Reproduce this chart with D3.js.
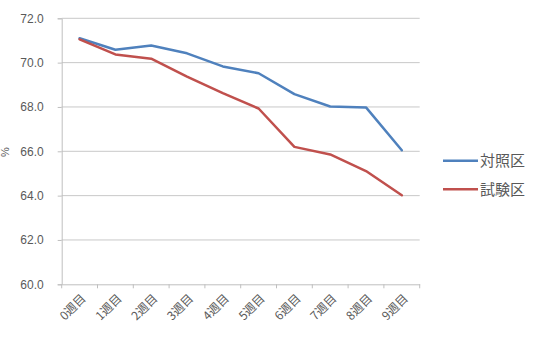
<!DOCTYPE html>
<html><head><meta charset="utf-8">
<script src="https://cdn.jsdelivr.net/npm/d3@7"></script>
<style>body{margin:0;background:#fff}svg{display:block}</style>
</head><body>
<svg id="c" width="533" height="340"></svg>
<script>
const categories = ["0週目","1週目","2週目","3週目","4週目","5週目","6週目","7週目","8週目","9週目"];
const controlValues = [71.1, 70.58, 70.77, 70.42, 69.83, 69.52, 68.58, 68.02, 67.98, 66.05];
const testValues = [71.05, 70.37, 70.18, 69.37, 68.62, 67.93, 66.2, 65.86, 65.11, 64.02];
const seriesNames = ["対照区","試験区"];
const yTicks = [60, 62, 64, 66, 68, 70, 72];
const yTitle = "%";

const colors = ["#4F81BD", "#C0504D"];
const svg = d3.select("#c");
const L = 61.7, R = 419.7, T = 18.3, B = 284.3;
const font = "'Liberation Sans', Arial, sans-serif";
const cjk = "'Noto Sans CJK JP', sans-serif";

const x = d3.scaleBand().domain(categories).range([L, R]).padding(0);
const y = d3.scaleLinear().domain([60, 72]).range([B, T]);

// gridlines
svg.append("g").selectAll("line").data(yTicks.filter(d => d > 60)).join("line")
  .attr("x1", L).attr("x2", R).attr("y1", d => y(d)).attr("y2", d => y(d))
  .attr("stroke", "#c9c9c9").attr("stroke-width", 1);

// y axis
const yAxis = d3.axisLeft(y).tickValues(yTicks).tickFormat(d3.format(".1f")).tickSize(4).tickPadding(14);
const gy = svg.append("g").attr("transform", `translate(${L},0)`).call(yAxis);
gy.select(".domain").attr("stroke", "#bfbfbf");
gy.selectAll(".tick line").attr("stroke", "#bfbfbf");
gy.selectAll("text").attr("fill", "#595959").style("font-family", font).style("font-size", "12px");

// x axis
const xAxis = d3.axisBottom(x).tickSize(0).tickFormat("");
const gx = svg.append("g").attr("transform", `translate(0,${B})`).call(xAxis);
gx.select(".domain").attr("stroke", "#bfbfbf");
gx.selectAll(".tick").remove();
const bounds = categories.map(c => x(c)).concat([x(categories[categories.length-1]) + x.bandwidth()]);
svg.append("g").selectAll("line").data(bounds).join("line")
  .attr("x1", d => d).attr("x2", d => d).attr("y1", B).attr("y2", B + 4)
  .attr("stroke", "#bfbfbf");
svg.append("g").selectAll("text").data(categories).join("text")
  .attr("transform", d => `translate(${x(d) + x.bandwidth()/2 + 4},${B + 12}) rotate(-45)`)
  .attr("text-anchor", "end").attr("dy", "0.35em")
  .attr("fill", "#595959").style("font-family", cjk).style("font-size", "12px")
  .text(d => d);

// y title
svg.append("text").attr("transform", `translate(9,${152}) rotate(-90)`)
  .attr("text-anchor", "middle").attr("fill", "#595959")
  .style("font-family", font).style("font-size", "11px").text(yTitle);

// lines
const line = d3.line().x((d, i) => x(categories[i]) + x.bandwidth()/2).y(d => y(d));
[controlValues, testValues].forEach((vals, k) => {
  svg.append("path").datum(vals).attr("d", line)
    .attr("fill", "none").attr("stroke", colors[k]).attr("stroke-width", 2.5)
    .attr("stroke-linejoin", "round").attr("stroke-linecap", "round");
});

// legend
const lg = svg.append("g");
seriesNames.forEach((n, k) => {
  const ly = 160.7 + k * 28.6;
  lg.append("line").attr("x1", 443).attr("x2", 478).attr("y1", ly).attr("y2", ly)
    .attr("stroke", colors[k]).attr("stroke-width", 2.5);
  lg.append("text").attr("x", 480).attr("y", ly).attr("dy", "0.35em")
    .attr("fill", "#595959").style("font-family", cjk).style("font-size", "15px")
    .text(n);
});
</script>
</body></html>
